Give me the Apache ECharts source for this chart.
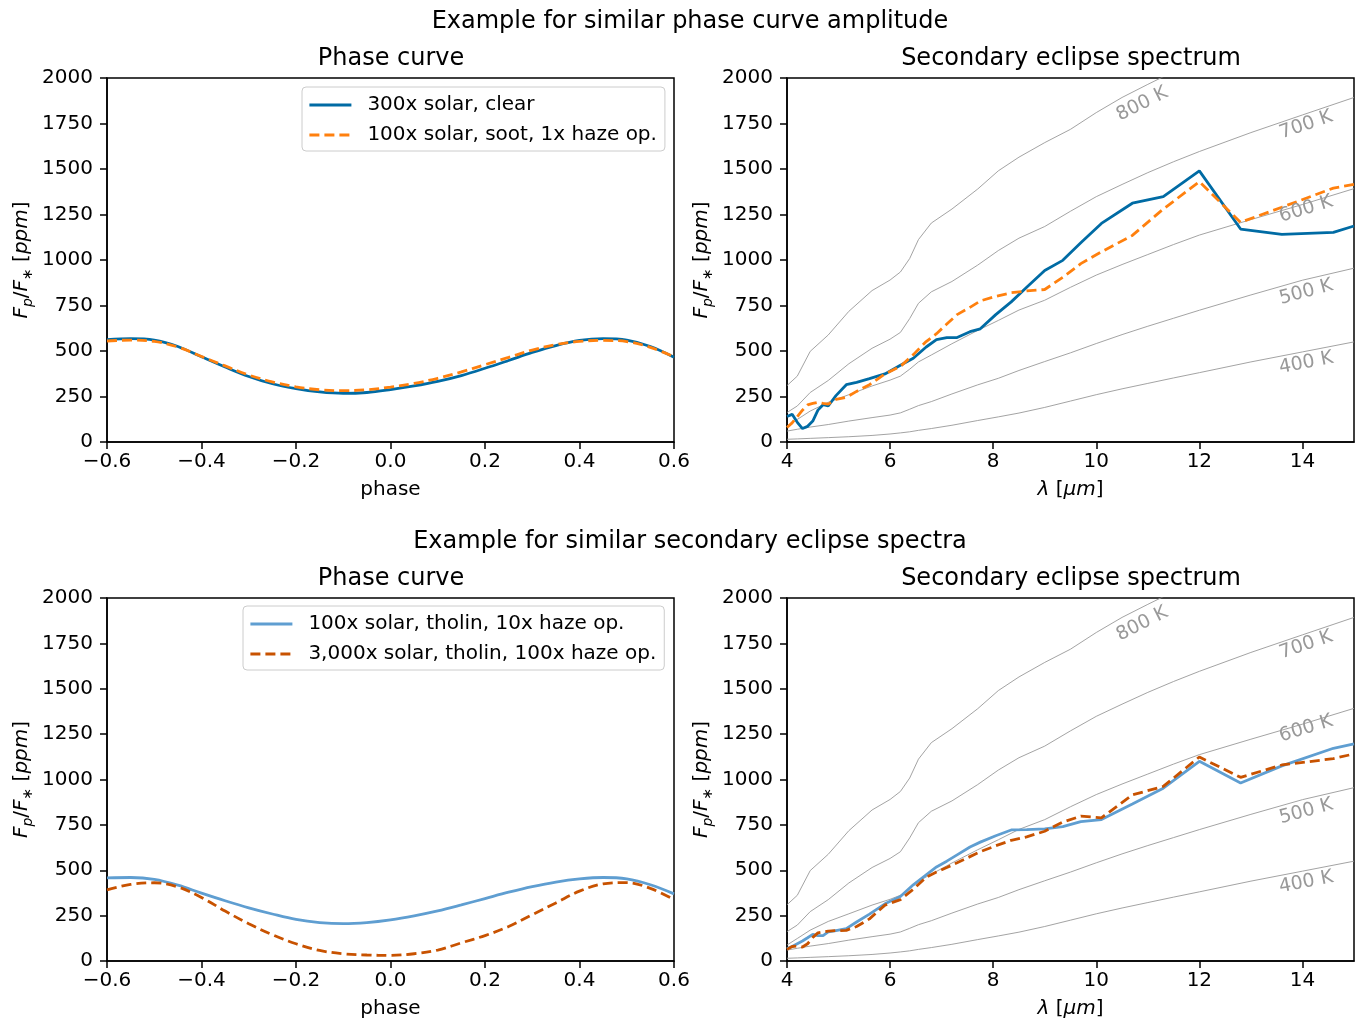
<!DOCTYPE html>
<html>
<head>
<meta charset="utf-8">
<title>Phase curves and secondary eclipse spectra</title>
<script src="https://cdn.jsdelivr.net/npm/echarts@6/dist/echarts.min.js"></script>
<style>
  html, body { margin: 0; padding: 0; background: #ffffff; }
  #chart { width: 1359px; height: 1023px; }
</style>
</head>
<body>
<div id="chart"></div>
<script>
// ---------- data ----------
// orbital phase grid of the phase curves
const phase = [-0.6, -0.55, -0.5, -0.45, -0.4, -0.35, -0.3, -0.25, -0.2, -0.15, -0.1, -0.05,
  0, 0.05, 0.1, 0.15, 0.2, 0.25, 0.3, 0.35, 0.4, 0.45, 0.5, 0.55, 0.6];

// phase curves, Fp/F* in ppm
const pcClear300 = [563, 568, 560, 525, 468, 412, 360, 320, 293, 275, 267, 272,
  288, 308, 333, 365, 405, 448, 492, 530, 558, 568, 560, 525, 466];
const pcSoot100 = [555, 560, 553, 522, 470, 418, 368, 330, 303, 287, 282, 287,
  302, 322, 350, 385, 425, 465, 505, 535, 553, 558, 552, 520, 468];
const pcTholin100 = [458, 460, 450, 418, 374, 332, 293, 259, 229, 212, 206, 212,
  227, 249, 276, 309, 344, 379, 410, 435, 452, 460, 452, 420, 370];
const pcTholin3000 = [392, 422, 431, 408, 350, 275, 205, 145, 95, 58, 40, 33,
  31, 40, 60, 100, 140, 190, 255, 320, 385, 425, 432, 400, 338];

// wavelength grid (micron) of the eclipse spectra
const wavelength = [4.0, 4.1, 4.2, 4.3, 4.4, 4.5, 4.6, 4.7, 4.8, 4.95, 5.15, 5.35, 5.6, 5.9,
  6.2, 6.45, 6.7, 6.9, 7.1, 7.3, 7.55, 7.75, 8.05, 8.35, 8.65, 9.0, 9.35, 9.7, 10.1, 10.7,
  11.3, 12.0, 12.8, 13.6, 14.6, 15.0];

// secondary eclipse spectra, Fp/F* in ppm
const seClear300 = [140, 152, 108, 74, 86, 115, 175, 205, 198, 255, 315, 328, 348, 374,
  422, 460, 522, 563, 574, 574, 606, 622, 700, 770, 850, 942, 998, 1095, 1201, 1312,
  1348, 1490, 1170, 1141, 1152, 1187];
const seSoot100 = [80, 105, 140, 175, 204, 212, 218, 212, 208, 234, 245, 278, 315, 374,
  415, 480, 552, 595, 648, 700, 740, 775, 800, 820, 830, 838, 905, 980, 1045, 1135,
  1280, 1430, 1207, 1290, 1395, 1415];
const seTholin100 = [68, 80, 95, 110, 128, 147, 140, 140, 160, 168, 178, 215, 258, 315,
  355, 420, 475, 518, 550, 585, 628, 655, 690, 722, 724, 728, 740, 768, 779, 865,
  952, 1100, 981, 1075, 1172, 1196];
const seTholin3000 = [64, 80, 82, 77, 95, 130, 155, 160, 165, 167, 169, 190, 232, 308,
  338, 395, 462, 490, 515, 541, 575, 602, 635, 665, 684, 715, 765, 798, 789, 915,
  962, 1124, 1012, 1080, 1115, 1141];

// blackbody planet-to-star flux ratios for reference temperatures
const bbWavelength = [4.0, 4.2, 4.45, 4.8, 5.2, 5.65, 6.0, 6.2, 6.38, 6.55, 6.8, 7.2, 7.7,
  8.1, 8.5, 9.0, 9.5, 10.0, 10.5, 11.0, 11.5, 12.0, 13.0, 14.0, 15.0];
const bb400 = [15, 17, 20, 24, 29, 36, 44, 50, 56, 64, 74, 92, 118, 138, 159, 190, 225,
  260, 292, 322, 352, 381, 440, 495, 550];
const bb500 = [60, 70, 82, 96, 115, 134, 148, 160, 180, 200, 222, 264, 314, 350, 393, 442,
  490, 541, 590, 636, 680, 724, 808, 889, 955];
const bb600 = [88, 124, 170, 218, 260, 308, 340, 362, 400, 440, 478, 540, 613, 668, 725,
  779, 850, 917, 975, 1030, 1085, 1137, 1222, 1305, 1392];
const bb700 = [162, 198, 272, 338, 430, 515, 565, 602, 678, 762, 825, 882, 972, 1052, 1120,
  1184, 1268, 1348, 1415, 1480, 1540, 1596, 1700, 1797, 1893];
const bb800 = [310, 362, 498, 588, 718, 832, 890, 934, 1008, 1112, 1203, 1280, 1390, 1490,
  1565, 1645, 1718, 1810, 1893, 1965, 2035, 2100, 2230, 2350, 2460];
const bbNames = ['400 K', '500 K', '600 K', '700 K', '800 K'];

// axis ticks
const phaseTicks = [-0.6, -0.4, -0.2, 0, 0.2, 0.4, 0.6];
const lambdaTicks = [4, 6, 8, 10, 12, 14];
const fluxTicks = [0, 250, 500, 750, 1000, 1250, 1500, 1750, 2000];

// series names
const nClear300 = '300x solar, clear';
const nSoot100 = '100x solar, soot, 1x haze op.';
const nTholin100 = '100x solar, tholin, 10x haze op.';
const nTholin3000 = '3,000x solar, tholin, 100x haze op.';

// ---------- styling ----------
const FONT = 'DejaVu Sans';
const C_BLUE = '#006BA4';
const C_ORANGE = '#FF800E';
const C_LIGHTBLUE = '#5F9ED1';
const C_DARKORANGE = '#C85200';
const GRAY = '#999999';
const LW = 2.8;
const DASH = [10, 5];

const pairs = (xs, ys) => xs.map((x, i) => [x, ys[i]]);
const fmtSigned = v => (v < 0 ? '\u2212' : '') + Math.abs(v).toFixed(1);

// plot areas: [left, top, width, height]
const boxes = [
  [107, 78, 567, 364],
  [787, 78, 567, 364],
  [107, 598, 567, 363],
  [787, 598, 567, 363]
];

const grids = boxes.map(b => ({
  left: b[0], top: b[1], width: b[2], height: b[3],
  show: true, borderColor: '#000', borderWidth: 1.5, backgroundColor: 'transparent'
}));

const axisCommon = {
  axisLine: { show: true, onZero: false, lineStyle: { color: '#000', width: 1.5 } },
  axisTick: { show: true, inside: false, length: 7, lineStyle: { color: '#000', width: 1.5 } },
  splitLine: { show: false }
};

const yName = '{i|F}{s|p}{u|/}{i|F}{s|\u2217}{u| [}{i|ppm}{u|]}';
const yNameStyle = {
  fontFamily: FONT, fontSize: 20, color: '#000',
  rich: {
    i: { fontFamily: FONT, fontSize: 20, fontStyle: 'italic', color: '#000', lineHeight: 26 },
    u: { fontFamily: FONT, fontSize: 20, color: '#000', lineHeight: 26 },
    s: { fontFamily: FONT, fontSize: 14, fontStyle: 'italic', color: '#000', lineHeight: 14, verticalAlign: 'bottom' }
  }
};
const lamName = '{i|\u03BB}{u| [}{i|\u03BCm}{u|]}';
const lamNameStyle = {
  fontFamily: FONT, fontSize: 20, color: '#000',
  rich: {
    i: { fontFamily: FONT, fontSize: 20, fontStyle: 'italic', color: '#000' },
    u: { fontFamily: FONT, fontSize: 20, color: '#000' }
  }
};

const xAxes = [0, 1, 2, 3].map(g => {
  const isPhase = g % 2 === 0;
  return Object.assign({}, axisCommon, {
    type: 'value', gridIndex: g,
    min: isPhase ? -0.6 : 4, max: isPhase ? 0.6 : 15, interval: isPhase ? 0.2 : 2,
    axisTick: Object.assign({}, axisCommon.axisTick, { customValues: isPhase ? phaseTicks : lambdaTicks }),
    axisLabel: {
      customValues: isPhase ? phaseTicks : lambdaTicks,
      showMinLabel: true, showMaxLabel: true,
      fontFamily: FONT, fontSize: 20, color: '#000', margin: 10,
      formatter: isPhase ? fmtSigned : (v => String(Math.round(v)))
    },
    name: isPhase ? 'phase' : lamName,
    nameLocation: 'middle', nameGap: 38,
    nameTextStyle: isPhase ? { fontFamily: FONT, fontSize: 20, color: '#000' } : lamNameStyle
  });
});

const yAxes = [0, 1, 2, 3].map(g => Object.assign({}, axisCommon, {
  type: 'value', gridIndex: g, min: 0, max: 2000, interval: 250,
  axisTick: Object.assign({}, axisCommon.axisTick, { customValues: fluxTicks }),
  axisLabel: {
    customValues: fluxTicks, showMinLabel: true, showMaxLabel: true,
    fontFamily: FONT, fontSize: 20, color: '#000', margin: 14,
    formatter: v => String(Math.round(v))
  },
  name: yName, nameLocation: 'middle', nameGap: 72, nameTextStyle: yNameStyle
}));

// ---------- series ----------
function curve(g, name, xs, ys, color, dashed, smooth) {
  return {
    type: 'line', name: name, xAxisIndex: g, yAxisIndex: g,
    data: pairs(xs, ys), symbol: 'none', smooth: smooth ? 0.35 : false,
    lineStyle: { color: color, width: LW, type: dashed ? DASH : 'solid' },
    itemStyle: { color: color },
    z: 3, silent: true, clip: true
  };
}

// temperature label anchor (data coords) and rotation for each blackbody curve
const bbLabelPlacement = [
  { at: [14.07, 434], rot: 11 },
  { at: [14.07, 824], rot: 15 },
  { at: [14.07, 1280], rot: 17 },
  { at: [14.07, 1742], rot: 19 },
  { at: [10.89, 1857], rot: 27 }
];
const bbCurves = [bb400, bb500, bb600, bb700, bb800];

function blackbodies(g) {
  return bbCurves.map((vals, k) => ({
    type: 'line', xAxisIndex: g, yAxisIndex: g,
    data: pairs(bbWavelength, vals), symbol: 'none',
    lineStyle: { color: GRAY, width: 0.9 },
    z: 1, silent: true, clip: true,
    markPoint: {
      silent: true, symbol: 'circle', symbolSize: 1,
      itemStyle: { color: 'rgba(0,0,0,0)' },
      label: {
        show: true, position: 'inside', formatter: bbNames[k],
        rotate: bbLabelPlacement[k].rot,
        color: GRAY, fontFamily: FONT, fontSize: 19
      },
      data: [{ coord: bbLabelPlacement[k].at, value: bbNames[k] }]
    }
  }));
}

const series = [].concat(
  blackbodies(1),
  blackbodies(3),
  [
    curve(0, nClear300, phase, pcClear300, C_BLUE, false, true),
    curve(0, nSoot100, phase, pcSoot100, C_ORANGE, true, true),
    curve(1, nClear300, wavelength, seClear300, C_BLUE, false, false),
    curve(1, nSoot100, wavelength, seSoot100, C_ORANGE, true, false),
    curve(2, nTholin100, phase, pcTholin100, C_LIGHTBLUE, false, true),
    curve(2, nTholin3000, phase, pcTholin3000, C_DARKORANGE, true, true),
    curve(3, nTholin100, wavelength, seTholin100, C_LIGHTBLUE, false, false),
    curve(3, nTholin3000, wavelength, seTholin3000, C_DARKORANGE, true, false)
  ]
);

// ---------- titles & legends ----------
const titleStyle = { fontFamily: FONT, fontSize: 24, fontWeight: 'normal', color: '#000' };
const titles = [
  { text: 'Example for similar phase curve amplitude', left: 690, top: 10 },
  { text: 'Phase curve', left: 391, top: 47 },
  { text: 'Secondary eclipse spectrum', left: 1071, top: 47 },
  { text: 'Example for similar secondary eclipse spectra', left: 690, top: 530 },
  { text: 'Phase curve', left: 391, top: 567 },
  { text: 'Secondary eclipse spectrum', left: 1071, top: 567 }
].map(t => Object.assign({ textAlign: 'center', padding: 0, textStyle: titleStyle }, t));

function legendBox(names, left, top) {
  return {
    data: names, left: left, top: top, orient: 'vertical',
    selectedMode: false,
    itemWidth: 42, itemHeight: 20, itemGap: 10,
    padding: [8, 8, 6, 6],
    backgroundColor: 'rgba(255,255,255,0.8)',
    borderColor: '#cccccc', borderWidth: 1, borderRadius: 4,
    itemStyle: { color: 'rgba(0,0,0,0)', opacity: 0, borderWidth: 0 },
    lineStyle: { width: LW },
    textStyle: { fontFamily: FONT, fontSize: 20, color: '#000', padding: [0, 0, 0, 11] }
  };
}

const option = {
  animation: false,
  backgroundColor: '#ffffff',
  title: titles,
  legend: [
    legendBox([nClear300, nSoot100], 302, 87),
    legendBox([nTholin100, nTholin3000], 243, 606)
  ],
  grid: grids,
  xAxis: xAxes,
  yAxis: yAxes,
  series: series
};

const chart = echarts.init(document.getElementById('chart'), null, { renderer: 'canvas' });
chart.setOption(option);
</script>
</body>
</html>
